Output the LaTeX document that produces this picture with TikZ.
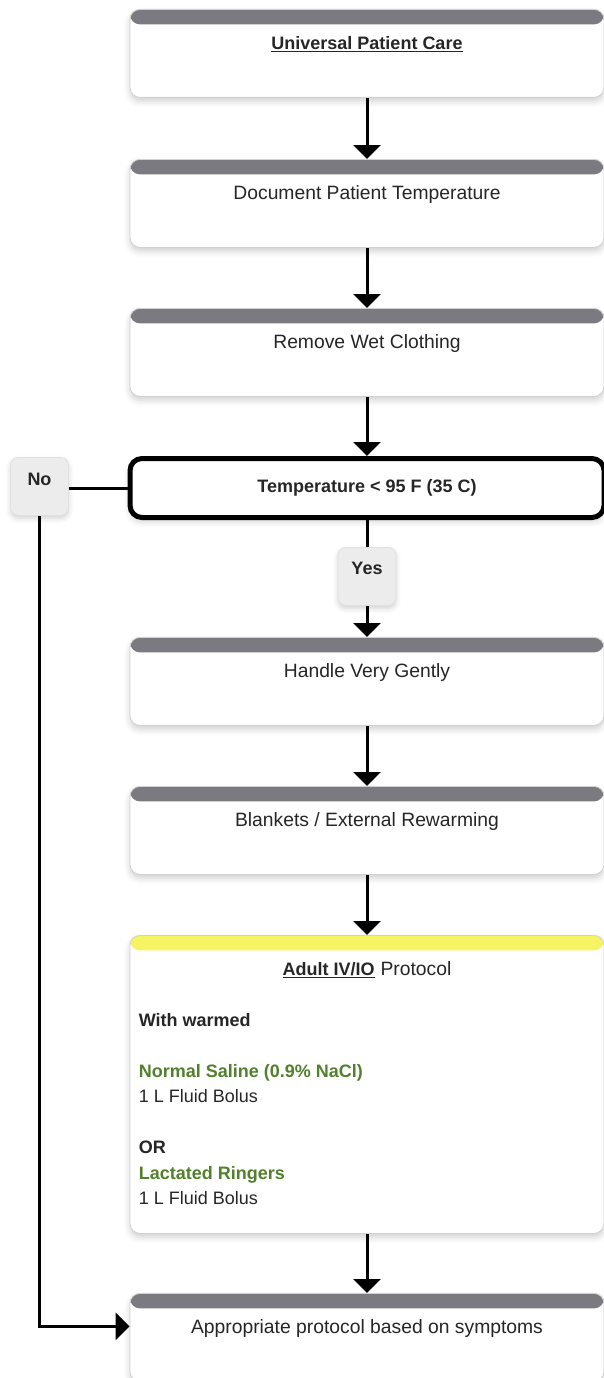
\documentclass[tikz,border=0pt]{standalone}
\usepackage{fontspec}
\setmainfont{Liberation Sans}
\usetikzlibrary{calc,arrows.meta,shadows.blur}

\definecolor{headGray}{RGB}{123,122,128}
\definecolor{ivYellow}{RGB}{246,244,98}
\definecolor{ivGreen}{RGB}{82,128,45}
\definecolor{textDark}{RGB}{38,38,38}
\definecolor{tagGray}{RGB}{236,236,236}
\newcommand{\boxfont}{\fontsize{19.3}{25.5}\selectfont}
\newcommand{\boldfont}{\fontsize{18}{25.5}\selectfont\bfseries}

\begin{document}
\begin{tikzpicture} [x=1pt,y=1pt,
  etape/.style=
  {rectangle,rounded corners=10pt, fill=white, draw=black!18, line width=0.8pt,
    minimum width=474pt, inner ysep=0pt, text height=40pt, text depth=48pt,
    anchor=north, font=\boxfont, text=textDark,
    blur shadow={shadow xshift=0pt,shadow yshift=-4pt,shadow blur radius=6pt,shadow opacity=18},
    path picture={\fill[headGray] (path picture bounding box.north west)
      rectangle ([yshift=-15pt]path picture bounding box.north east);}},
  protocole/.style=
  {etape, text depth=258pt,
    path picture={\fill[ivYellow] (path picture bounding box.north west)
      rectangle ([yshift=-15pt]path picture bounding box.north east);}},
  test/.style=
  {rectangle,rounded corners=12pt, fill=white, draw=black, line width=5pt,
    minimum width=474pt, minimum height=59pt, anchor=north,
    font=\boldfont, text=textDark,
    blur shadow={shadow xshift=0pt,shadow yshift=-4pt,shadow blur radius=6pt,shadow opacity=18}},
  reponse/.style=
  {rectangle,rounded corners=8pt, fill=tagGray, draw=black!12, line width=0.8pt,
    minimum width=58pt, inner ysep=0pt, anchor=north,
    font=\boldfont, text=textDark,
    blur shadow={shadow xshift=0pt,shadow yshift=-3pt,shadow blur radius=5pt,shadow opacity=18}},
  flow/.style={-{Triangle[width=27pt,length=14pt]}, line width=3pt},
  link/.style={line width=3pt}]
\useasboundingbox (0,0) rectangle (604,-1378);
\clip (0,0) rectangle (604,-1378);

\node [etape] (care) at (367,-9) {\boldfont\underline{Universal Patient Care}};
\node [etape] (docTemp) at (367,-159) {Document Patient Temperature};
\node [etape] (wetClothes) at (367,-308) {Remove Wet Clothing};
\node [test] (tempCheck) at (367,-456) {Temperature < 95 F (35 C)};
\node [reponse,text height=28pt,text depth=30pt] (no) at (39.5,-457) {No};
\node [reponse,text height=27pt,text depth=31pt] (yes) at (367,-547) {Yes};
\node [etape] (gently) at (367,-637) {Handle Very Gently};
\node [etape] (warming) at (367,-786) {Blankets / External Rewarming};
\node [protocole] (ivio) at (367,-935) {{\boldfont\underline{Adult IV/IO}}\hspace{6pt}Protocol};
\node [anchor=north west, inner sep=0pt, align=left, font=\fontsize{18}{25.5}\selectfont, text=textDark]
  (ivBody) at ($(ivio.north west)+(9,-78)$)
  {\textbf{With warmed}\\[25.5pt]
   \textcolor{ivGreen}{\textbf{Normal Saline (0.9\% NaCl)}}\\
   1 L Fluid Bolus\\[25.5pt]
   \textbf{OR}\\
   \textcolor{ivGreen}{\textbf{Lactated Ringers}}\\
   1 L Fluid Bolus};
\node [etape] (symptoms) at (367,-1293) {Appropriate protocol based on symptoms};

\draw [flow] (care.south) -- (docTemp.north);
\draw [flow] (docTemp.south) -- (wetClothes.north);
\draw [flow] (wetClothes.south) -- (tempCheck.north);
\draw [link] (tempCheck.west) -- (no.east |- tempCheck.west);
\draw [link] (tempCheck.south) -- (yes.north);
\draw [flow] (yes.south) -- (gently.north);
\draw [flow] (gently.south) -- (warming.north);
\draw [flow] (warming.south) -- (ivio.north);
\draw [flow] (ivio.south) -- (symptoms.north);
\draw [flow] (no.south) |- ($(symptoms.west)+(0,11)$);

\end{tikzpicture}
\end{document}
